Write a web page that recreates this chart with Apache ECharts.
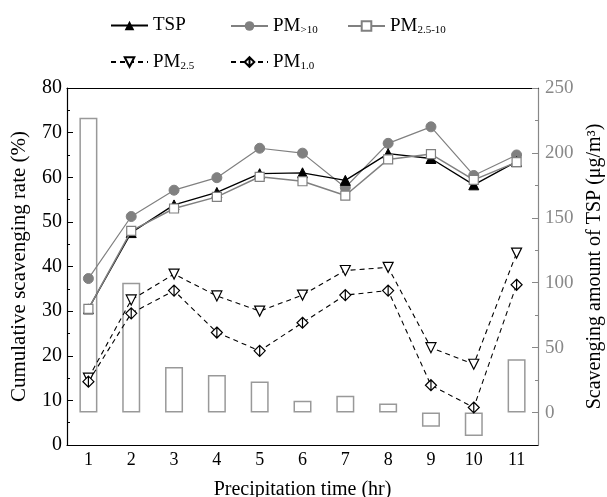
<!DOCTYPE html>
<html>
<head>
<meta charset="utf-8">
<script src="https://cdn.jsdelivr.net/npm/echarts@6/dist/echarts.min.js"></script>
<style>
  html, body { margin: 0; padding: 0; background: #fff; }
  #chart { width: 607px; height: 497px; }
</style>
</head>
<body>
<div id="chart"></div>
<script>
// precipitation hours
const hours = ['1', '2', '3', '4', '5', '6', '7', '8', '9', '10', '11'];

// cumulative scavenging rate (%)
const tsp = [30.5, 47.6, 53.8, 56.6, 60.8, 61.0, 59.3, 65.3, 64.2, 58.3, 63.5];
const pmAbove10 = [37.3, 51.2, 57.1, 59.9, 66.5, 65.4, 57.7, 67.6, 71.3, 60.4, 65.0];
const pm25to10 = [30.5, 48.0, 53.0, 55.6, 60.1, 59.1, 55.9, 64.0, 65.2, 59.4, 63.4];
const pm25 = [15.0, 32.5, 38.3, 33.4, 30.0, 33.6, 39.1, 39.8, 21.8, 18.1, 43.0];
const pm10 = [14.2, 29.5, 34.6, 25.2, 21.1, 27.4, 33.6, 34.6, 13.4, 8.4, 35.9];

// scavenging amount of TSP (ug/m3)
const tspAmount = [227, 100, 35, 29, 24, 9, 13, 7, -11, -18, 41];

const rightMajor = [0, 50, 100, 150, 200, 250];
const rightMinor = [25, 75, 125, 175, 225];

const serif = 'Liberation Serif';
const rich = {
  m: { fontFamily: serif, fontSize: 19, color: '#000', lineHeight: 24 },
  s: { fontFamily: serif, fontSize: 11, color: '#000', lineHeight: 24, padding: [9, 0, 0, 0] },
};

const chart = echarts.init(document.getElementById('chart'));

const legendItem = (name, label, left, top) => ({
  data: [name],
  left: left,
  top: top,
  itemWidth: 37,
  itemHeight: 12,
  itemGap: 0,
  formatter: () => label,
  textStyle: { rich: rich },
});

const option = {
  animation: false,
  legend: [
    legendItem('TSP', '{m|TSP}', 105, 11),
    legendItem('PM>10', '{m|PM}{s|>10}', 225, 11),
    legendItem('PM2.5-10', '{m|PM}{s|2.5-10}', 342, 11),
    legendItem('PM2.5', '{m|PM}{s|2.5}', 105, 47),
    legendItem('PM1.0', '{m|PM}{s|1.0}', 225, 47),
  ],
  grid: { left: 67, right: 69, top: 88, bottom: 52, outerBoundsMode: 'none' },
  xAxis: [
    {
      type: 'category',
      data: hours,
      boundaryGap: true,
      name: 'Precipitation time (hr)',
      nameLocation: 'middle',
      nameGap: 35,
      nameTextStyle: { fontFamily: serif, fontSize: 20, color: '#000' },
      axisLine: { onZero: false, lineStyle: { color: '#000', width: 1.2 } },
      axisTick: { inside: true, alignWithLabel: true, length: 5, lineStyle: { color: '#000' } },
      axisLabel: { fontFamily: serif, fontSize: 18, color: '#000', margin: 6 },
      splitLine: { show: false },
    },
    {
      type: 'category',
      data: hours,
      position: 'top',
      boundaryGap: true,
      axisLine: { onZero: false, lineStyle: { color: '#000', width: 1.2 } },
      axisTick: { inside: true, alignWithLabel: true, length: 5, lineStyle: { color: '#000' } },
      axisLabel: { show: false },
    },
  ],
  yAxis: [
    {
      type: 'value',
      min: 0,
      max: 80,
      interval: 10,
      name: 'Cumulative scavenging rate (%)',
      nameLocation: 'middle',
      nameGap: 37,
      nameTextStyle: { fontFamily: serif, fontSize: 21, color: '#000' },
      axisLine: { show: true, lineStyle: { color: '#000', width: 1.2 } },
      axisTick: { show: true, inside: true, length: 6, lineStyle: { color: '#000' } },
      minorTick: { show: true, splitNumber: 2, length: 3, lineStyle: { color: '#000' } },
      axisLabel: { fontFamily: serif, fontSize: 20, color: '#000', margin: 5 },
      splitLine: { show: false },
    },
    {
      type: 'value',
      min: -25,
      max: 250,
      position: 'right',
      name: 'Scavenging amount of TSP (μg/m³)',
      nameLocation: 'middle',
      nameGap: 47,
      nameTextStyle: { fontFamily: serif, fontSize: 20, color: '#000' },
      axisLine: { show: true, lineStyle: { color: '#888', width: 1.2 } },
      axisTick: { show: true, inside: true, length: 6, customValues: rightMajor, lineStyle: { color: '#888' } },
      axisLabel: { fontFamily: serif, fontSize: 19, color: '#888', margin: 7, customValues: rightMajor },
      splitLine: { show: false },
    },
    {
      type: 'value',
      min: -25,
      max: 250,
      position: 'right',
      axisLine: { show: false },
      axisTick: { show: true, inside: true, length: 3, customValues: rightMinor, lineStyle: { color: '#888' } },
      axisLabel: { show: false },
      splitLine: { show: false },
    },
  ],
  series: [
    {
      name: 'amount',
      type: 'bar',
      yAxisIndex: 1,
      data: tspAmount,
      barWidth: 18,
      z: 1,
      itemStyle: { color: 'rgba(255,255,255,0)', borderColor: '#999', borderWidth: 1.5 },
    },
    {
      name: 'PM>10',
      type: 'line',
      data: pmAbove10,
      symbol: 'circle',
      symbolSize: 10,
      z: 3,
      lineStyle: { color: '#808080', width: 1.2 },
      itemStyle: { color: '#808080', borderColor: '#808080' },
    },
    {
      name: 'PM2.5-10',
      type: 'line',
      data: pm25to10,
      symbol: 'rect',
      symbolSize: 9,
      z: 5,
      lineStyle: { color: '#808080', width: 1.5 },
      itemStyle: { color: '#fff', borderColor: '#808080', borderWidth: 1.2 },
    },
    {
      name: 'TSP',
      type: 'line',
      data: tsp,
      symbol: 'triangle',
      symbolSize: 10,
      z: 4,
      lineStyle: { color: '#000', width: 1.3 },
      itemStyle: { color: '#000', borderColor: '#000' },
    },
    {
      name: 'PM2.5',
      type: 'line',
      data: pm25,
      symbol: 'triangle',
      symbolRotate: 180,
      symbolSize: 10,
      z: 4,
      lineStyle: { color: '#000', width: 1.1, type: [5, 4] },
      itemStyle: { color: '#fff', borderColor: '#000', borderWidth: 1.2 },
    },
    {
      name: 'PM1.0',
      type: 'line',
      data: pm10,
      symbol: 'path://M0,-1L1,0L0,1L-1,0Z M0,-1L0,1',
      symbolSize: 11,
      z: 4,
      lineStyle: { color: '#000', width: 1.1, type: [5, 4] },
      itemStyle: { color: '#fff', borderColor: '#000', borderWidth: 1.2 },
    },
  ],
};

chart.setOption(option);
</script>
</body>
</html>
